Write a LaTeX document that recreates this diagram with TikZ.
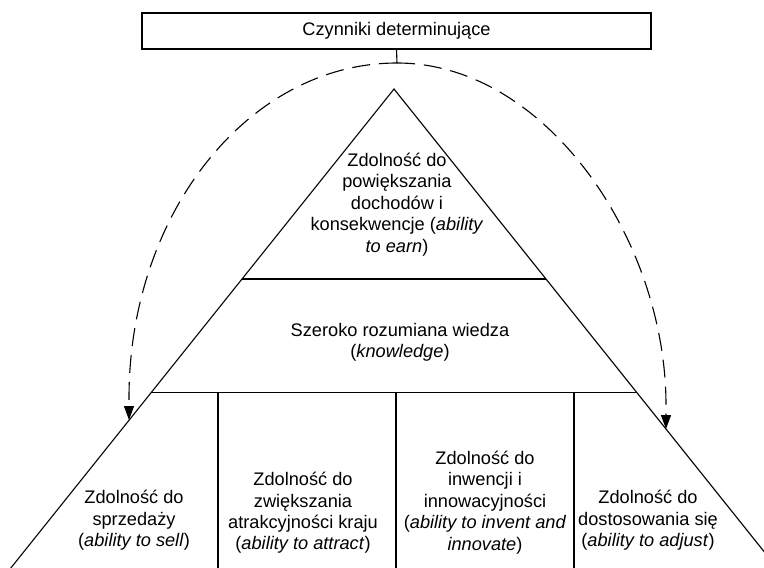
\documentclass[tikz,border=0pt]{standalone}
\usepackage{fontspec}
\setmainfont{Liberation Sans}
\usetikzlibrary{arrows.meta,calc}
\begin{document}
\begin{tikzpicture}[x=1pt,y=-1pt,
  thin line/.style={line width=1.1pt, line join=miter},
  dashline/.style={line width=1.1pt, dash pattern=on 18pt off 9pt},
  tip/.style={-{Triangle[length=14pt,width=10pt]}},
  lbl/.style={align=center, inner sep=0pt, font=\fontsize{18.2}{21.4}\selectfont},
  headbox/.style={draw, line width=1.2pt, inner sep=0pt,
    minimum width=509pt, minimum height=36pt, font=\fontsize{18.2}{21.4}\selectfont}]
\useasboundingbox (0,0) rectangle (764,568);
\clip (0,0) rectangle (764,568);

% heading box
\node[headbox] (head) at (396.5,31) {Czynniki determinujące};

% pyramid outline
\coordinate (apex) at (394,89);
\coordinate (bl) at (1.2,580);
\coordinate (br) at (786.8,580);
\draw[thin line] (apex) -- (bl) -- (br) -- cycle;

% horizontal dividers
\coordinate (l1) at ($(apex)!0.387!(bl)$);
\coordinate (r1) at ($(apex)!0.387!(br)$);
\coordinate (l2) at ($(apex)!0.619!(bl)$);
\coordinate (r2) at ($(apex)!0.619!(br)$);
\draw[thin line] (l1) -- (r1);
\draw[thin line] (l2) -- (r2);

% vertical dividers of the base
\foreach \x [count=\i] in {218,396,574} {
  \coordinate (v\i) at (\x,393);
  \draw[thin line] (v\i) -- (\x,580);
}

% dashed feedback arcs
\coordinate (top) at (397,63);
\coordinate (ltip) at (129,420);
\coordinate (rtip) at (666,429);
\draw[thin line] (head.south) -- (top);
\draw[dashline, tip] (top) .. controls (249,63) and (129,213) .. (129,398) -- (ltip);
\draw[dashline, tip] (top) .. controls (546,63) and (666,240) .. (666,405) -- (rtip);

% labels
\node[lbl] (earn) at (397,204.5) {Zdolność do\\powiększania\\dochodów i\\konsekwencje (\textit{ability}\\\textit{to earn})};
\node[lbl] (know) at (400,342.5) {Szeroko rozumiana wiedza\\(\textit{knowledge})};
\node[lbl] (sell) at (134,520.5) {Zdolność do\\sprzedaży\\(\textit{ability to sell})};
\node[lbl] (attract) at (303,513) {Zdolność do\\zwiększania\\atrakcyjności kraju\\(\textit{ability to attract})};
\node[lbl] (invent) at (485,502.5) {Zdolność do\\inwencji i\\innowacyjności\\(\textit{ability to invent and}\\\textit{innovate})};
\node[lbl] (adjust) at (648,520.5) {Zdolność do\\dostosowania się\\(\textit{ability to adjust})};
\end{tikzpicture}
\end{document}
